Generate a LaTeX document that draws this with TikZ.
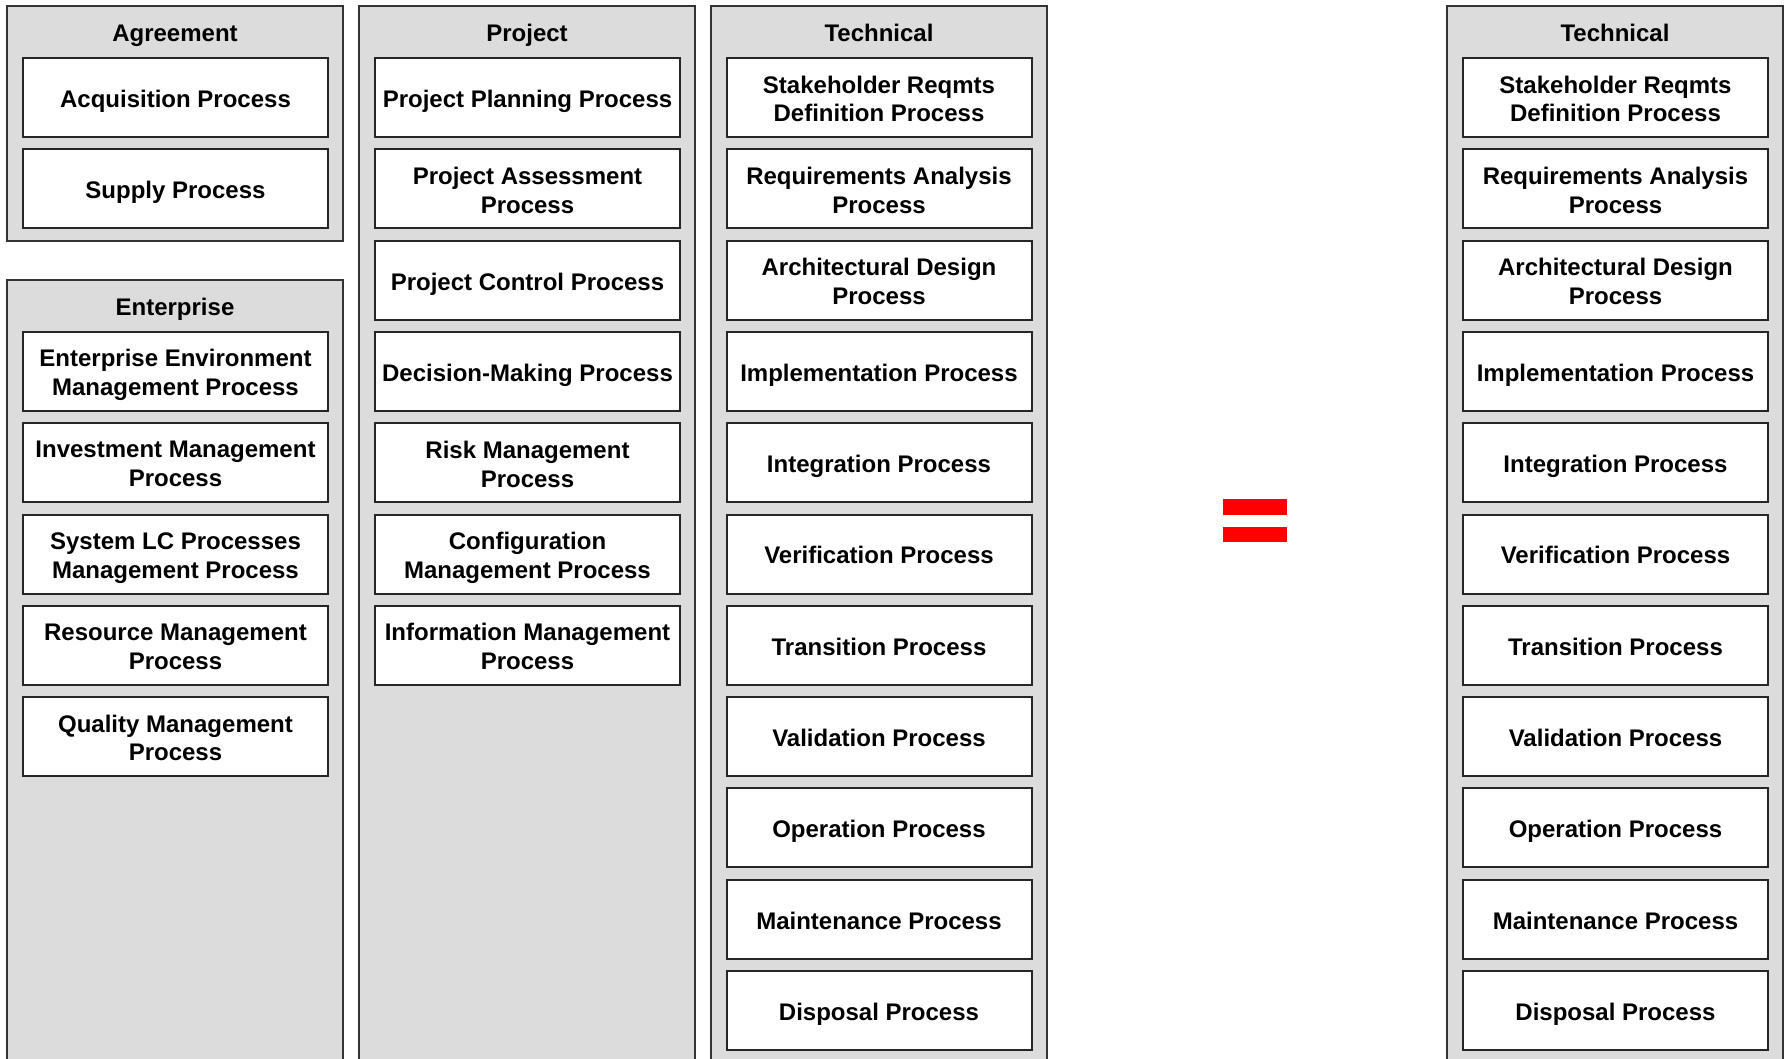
\documentclass[tikz,border=0pt]{standalone}
\usepackage{fontspec}
\setmainfont{Liberation Sans}
\definecolor{panelgray}{HTML}{DCDCDC}
\definecolor{eqred}{HTML}{FF0000}
\newcommand{\bstrut}{\rule[-5.5pt]{0pt}{9.5pt}}
\begin{document}
\begin{tikzpicture}[x=0.5pt,y=-0.5pt,
  panel/.style={draw=black!80, line width=1pt, fill=panelgray},
  procbox/.style={draw=black!85, line width=1pt, fill=white, align=center,
    font=\bfseries\fontsize{12}{14.4}\selectfont, inner sep=0pt,
    minimum width=152.5pt, minimum height=39.5pt},
  boxtext/.style={align=center, font=\bfseries\fontsize{12}{14.4}\selectfont,
    inner sep=0pt, yshift=-3.4pt},
  ptitle/.style={font=\bfseries\fontsize{12}{14.4}\selectfont, inner sep=0pt, anchor=base},
  eqbar/.style={fill=eqred, draw=none}]
\clip (0,0) rectangle (1785,1059);
\fill[white] (0,0) rectangle (1785,1059);
% panels
\draw[panel] (7,6) rectangle (343,241);
\draw[panel] (7,280) rectangle (343,1080);
\draw[panel] (359,6) rectangle (695,1080);
\draw[panel] (711,6) rectangle (1047,1080);
\draw[panel] (1447,6) rectangle (1783,1080);
% titles
\node[ptitle] (tagr) at (175,42) {Agreement};
\node[ptitle] (tent) at (175,316) {Enterprise};
\node[ptitle] (tproj) at (527,42) {Project};
\node[ptitle] (ttech) at (879,42) {Technical};
\node[ptitle] (ttech2) at (1615,42) {Technical};
% agreement
\foreach \t [count=\i from 0] in {Acquisition Process, Supply Process}
  \node[procbox] (a\i) at (175.5,{97.5+91.3*\i}) {}
    node[boxtext] at (a\i.center) {\bstrut\t\bstrut};
% enterprise
\foreach \t [count=\i from 3] in {{Enterprise Environment\\Management Process},
  {Investment Management\\Process},{System LC Processes\\Management Process},
  {Resource Management\\Process},{Quality Management\\Process}}
  \node[procbox] (e\i) at (175.5,{97.5+91.3*\i}) {}
    node[boxtext] at (e\i.center) {\bstrut\t\bstrut};
% project
\foreach \t [count=\i from 0] in {Project Planning Process,
  {Project Assessment\\Process},Project Control Process,Decision-Making Process,
  {Risk Management\\Process},{Configuration\\Management Process},
  {Information Management\\Process}}
  \node[procbox] (p\i) at (527.5,{97.5+91.3*\i}) {}
    node[boxtext] at (p\i.center) {\bstrut\t\bstrut};
% technical (both)
\foreach \t [count=\i from 0] in {{Stakeholder Reqmts\\Definition Process},
  {Requirements Analysis\\Process},{Architectural Design\\Process},
  Implementation Process,Integration Process,Verification Process,
  Transition Process,Validation Process,Operation Process,
  Maintenance Process,Disposal Process}
{
  \node[procbox] (t\i) at (879,{97.5+91.3*\i}) {}
    node[boxtext] at (t\i.center) {\bstrut\t\bstrut};
  \node[procbox] (s\i) at (1615.5,{97.5+91.3*\i}) {}
    node[boxtext] at (s\i.center) {\bstrut\t\bstrut};
}
% equals sign
\path[eqbar] (1223,499) rectangle (1287,515);
\path[eqbar] (1223,527) rectangle (1287,542);
\end{tikzpicture}
\end{document}
